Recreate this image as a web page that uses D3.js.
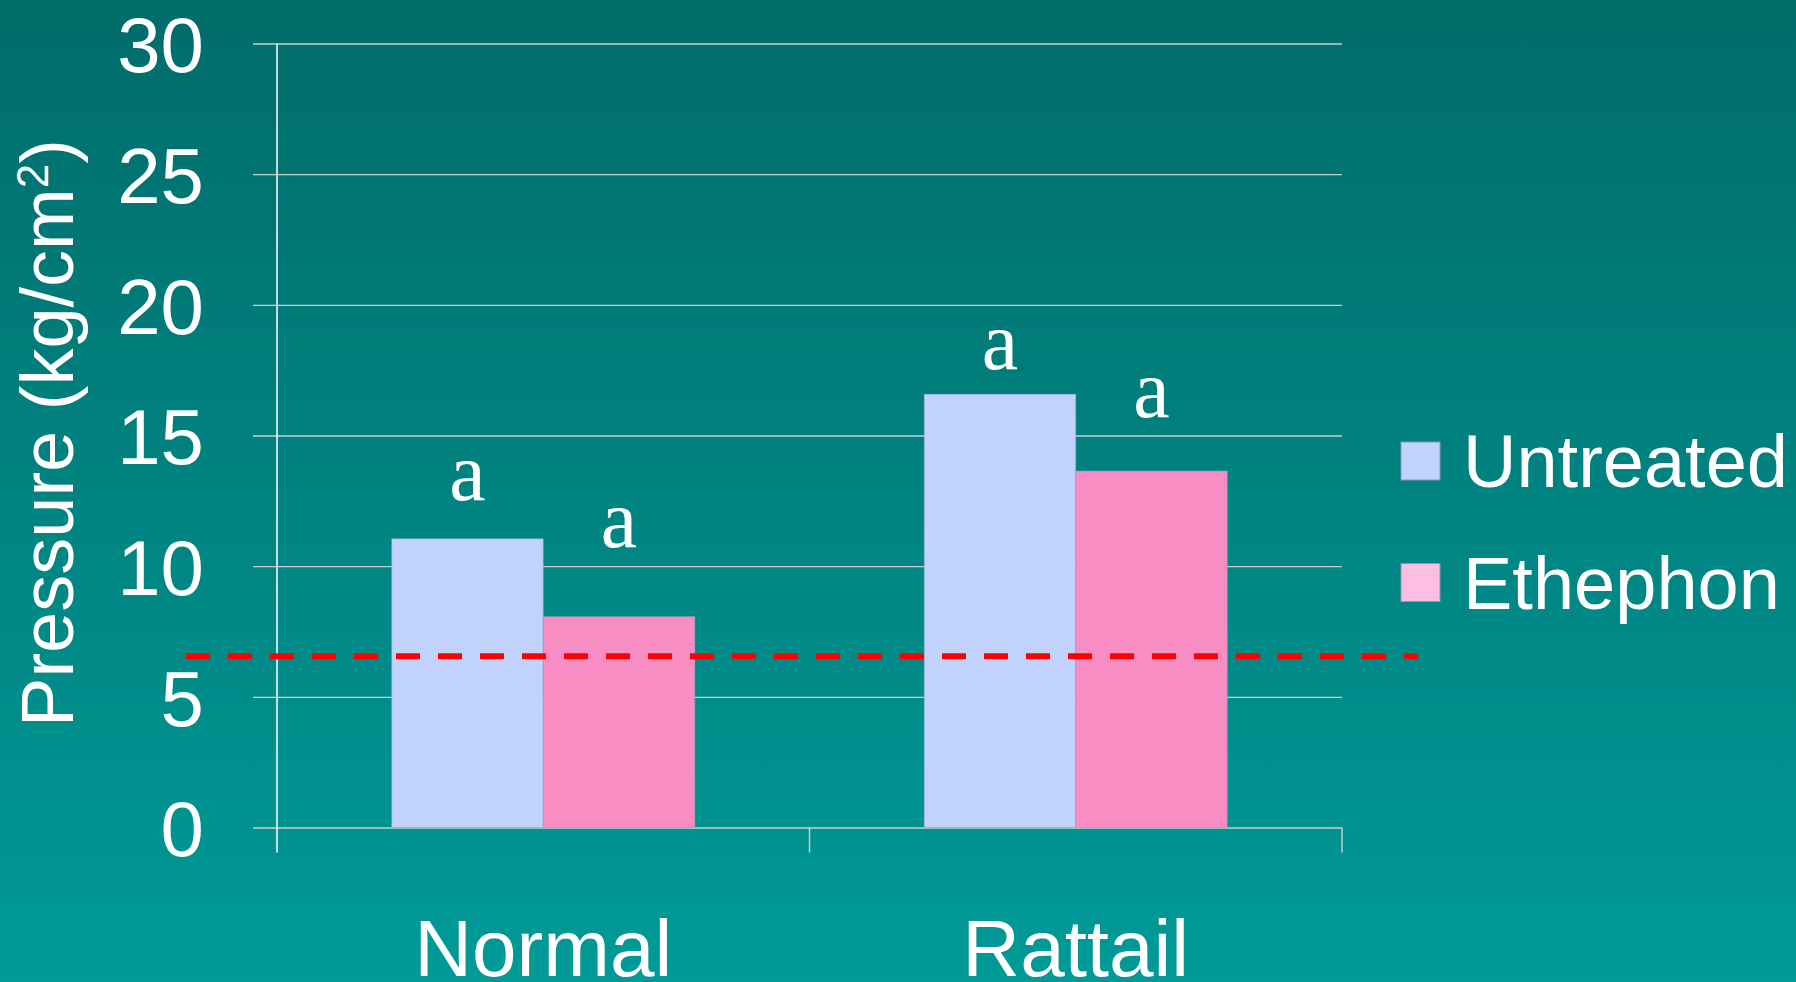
<!DOCTYPE html>
<html>
<head>
<meta charset="utf-8">
<script src="https://cdn.jsdelivr.net/npm/d3@7"></script>
<style>
  html, body { margin: 0; padding: 0; overflow: hidden; }
  #chart { width: 1796px; height: 982px; }
</style>
</head>
<body>
<div id="chart"></div>
<script>
// Data
const categories = ["Normal", "Rattail"];
const series = ["Untreated", "Ethephon"];
const untreated = [11.05, 16.58];
const ethephon = [8.07, 13.64];
// Height (in kg/cm2) where each "a" letter sits
const letterUntreated = [12.53, 17.55];
const letterEthephon = [10.74, 15.7];
const letters = ["a", "a", "a", "a"];
const threshold = 6.55;
const yTicks = [0, 5, 10, 15, 20, 25, 30];

// Display options
const width = 1796;
const height = 982;
const barColours = { Untreated: "#c1d3fc", Ethephon: "#f88dc4" };
const legendColours = { Untreated: "#c1d3fc", Ethephon: "#fcbee2" };
const sansFont = "'Liberation Sans', Arial, sans-serif";
const serifFont = "'Liberation Serif', 'Times New Roman', serif";

const svg = d3
  .select("#chart")
  .append("svg")
  .attr("width", width)
  .attr("height", height);

// Teal background gradient
const grad = svg
  .append("defs")
  .append("linearGradient")
  .attr("id", "bg")
  .attr("x1", 0)
  .attr("y1", 0)
  .attr("x2", 0)
  .attr("y2", 1);
grad.append("stop").attr("offset", "0%").attr("stop-color", "#006c6a");
grad.append("stop").attr("offset", "100%").attr("stop-color", "#009a97");
svg
  .append("rect")
  .attr("width", width)
  .attr("height", height)
  .attr("fill", "url(#bg)");

// Scales
const y = d3.scaleLinear().domain([0, 30]).range([827.5, 43.5]);
const x0 = d3.scaleBand().domain(categories).range([277, 1342]);
const x1 = d3
  .scaleBand()
  .domain(series)
  .range([0, x0.bandwidth()])
  .paddingInner(0)
  .paddingOuter(0.757);

// Gridlines + tick labels
const gridLeft = 253;
const yAxis = svg
  .append("g")
  .attr("transform", `translate(${gridLeft},0)`)
  .call(
    d3
      .axisLeft(y)
      .tickValues(yTicks)
      .tickSize(-(x0.range()[1] - gridLeft))
      .tickPadding(49)
  );
yAxis.select(".domain").remove();
yAxis.selectAll(".tick line").attr("stroke", "#c9cfcf").attr("stroke-width", 1.3);
yAxis
  .selectAll(".tick text")
  .attr("dy", "0.365em")
  .attr("fill", "white")
  .style("font-family", sansFont)
  .style("font-size", "78px");

// Vertical axis line
svg
  .append("line")
  .attr("x1", x0.range()[0])
  .attr("x2", x0.range()[0])
  .attr("y1", y(30))
  .attr("y2", y(0) + 25)
  .attr("stroke", "white")
  .attr("stroke-width", 1.5);

// Category boundary ticks
svg
  .selectAll("line.cat-tick")
  .data(categories)
  .enter()
  .append("line")
  .attr("class", "cat-tick")
  .attr("x1", (d) => x0(d) + x0.bandwidth())
  .attr("x2", (d) => x0(d) + x0.bandwidth())
  .attr("y1", y(0))
  .attr("y2", y(0) + 25)
  .attr("stroke", "#c9cfcf")
  .attr("stroke-width", 1.5);

// Bake bar data
const bars = categories.flatMap((c, i) => [
  { cat: c, key: "Untreated", value: untreated[i], letterAt: letterUntreated[i], letter: letters[i * 2] },
  { cat: c, key: "Ethephon", value: ethephon[i], letterAt: letterEthephon[i], letter: letters[i * 2 + 1] },
]);

svg
  .selectAll("rect.bar")
  .data(bars)
  .enter()
  .append("rect")
  .attr("class", "bar")
  .attr("x", (d) => x0(d.cat) + x1(d.key))
  .attr("width", x1.bandwidth())
  .attr("y", (d) => y(d.value))
  .attr("height", (d) => y(0) - y(d.value))
  .attr("fill", (d) => barColours[d.key])
  .attr("stroke", "#8f9fbf")
  .attr("stroke-opacity", 0.5)
  .attr("stroke-width", 1);

// Significance letters
svg
  .selectAll("text.letter")
  .data(bars)
  .enter()
  .append("text")
  .attr("class", "letter")
  .attr("x", (d) => x0(d.cat) + x1(d.key) + x1.bandwidth() / 2)
  .attr("y", (d) => y(d.letterAt))
  .attr("text-anchor", "middle")
  .attr("fill", "white")
  .style("font-family", serifFont)
  .style("font-size", "82px")
  .text((d) => d.letter);

// Red dashed threshold line
svg
  .append("line")
  .attr("x1", 186)
  .attr("x2", 1418)
  .attr("y1", y(threshold))
  .attr("y2", y(threshold))
  .attr("stroke", "#ff0000")
  .attr("stroke-width", 6)
  .attr("stroke-dasharray", "24 18");

// Category labels
svg
  .selectAll("text.cat")
  .data(categories)
  .enter()
  .append("text")
  .attr("class", "cat")
  .attr("x", (d) => x0(d) + x0.bandwidth() / 2)
  .attr("y", 976)
  .attr("text-anchor", "middle")
  .attr("fill", "white")
  .style("font-family", sansFont)
  .style("font-size", "80px")
  .text((d) => d);

// Y axis title with superscript
const yTitle = svg
  .append("text")
  .attr("transform", "translate(73,433) rotate(-90)")
  .attr("text-anchor", "middle")
  .attr("fill", "white")
  .style("font-family", sansFont)
  .style("font-size", "74px");
yTitle.append("tspan").text("Pressure (kg/cm");
yTitle.append("tspan").attr("dy", -25).style("font-size", "44px").text("2");
yTitle.append("tspan").attr("dy", 25).text(")");

// Legend
const legend = svg
  .selectAll("g.legend")
  .data(series)
  .enter()
  .append("g")
  .attr("class", "legend")
  .attr("transform", (d, i) => `translate(1401,${442 + i * 121.5})`);
legend
  .append("rect")
  .attr("width", 39)
  .attr("height", 38)
  .attr("fill", (d) => legendColours[d])
  .attr("stroke", "#8a9ab0")
  .attr("stroke-width", 1);
legend
  .append("text")
  .attr("x", 62)
  .attr("y", 45)
  .attr("fill", "white")
  .style("font-family", sansFont)
  .style("font-size", "74px")
  .text((d) => d);
</script>
</body>
</html>
